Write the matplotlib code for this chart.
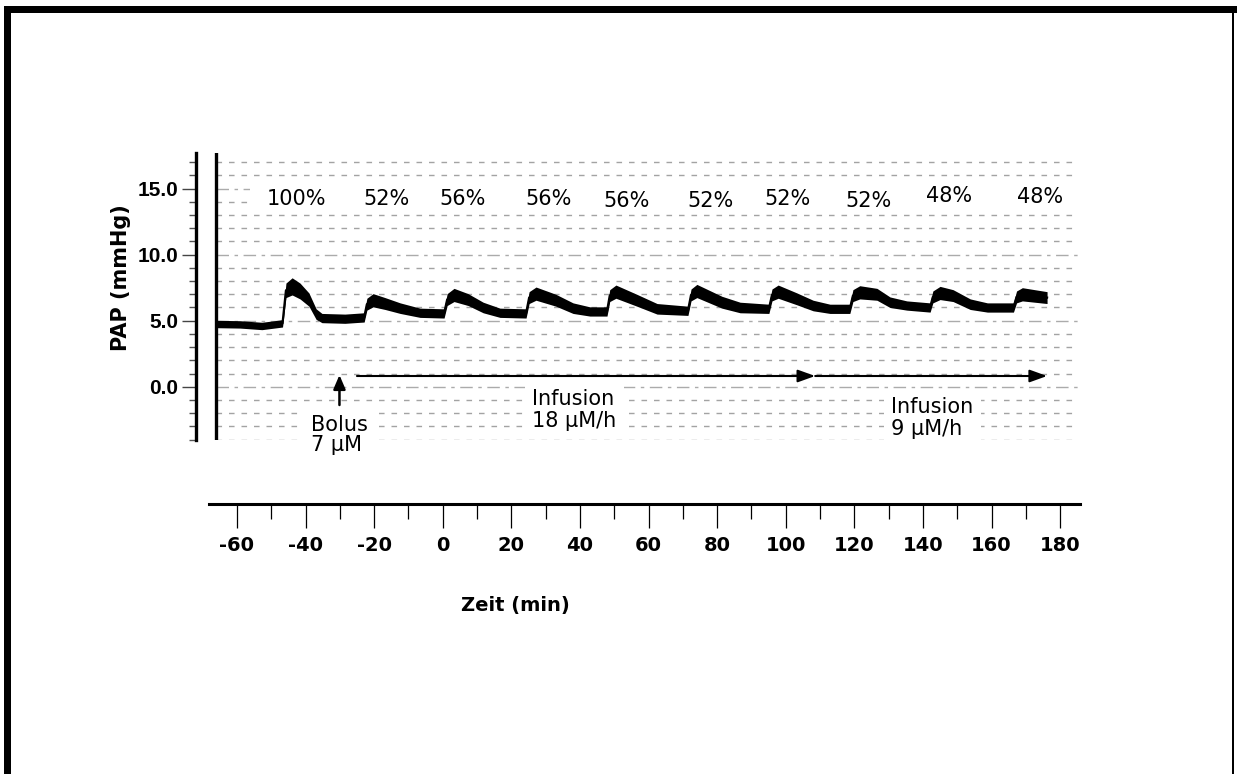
import matplotlib
matplotlib.use("Agg")
import numpy as np
import matplotlib.pyplot as plt
from matplotlib.patches import Rectangle
from matplotlib.ticker import FixedLocator, MultipleLocator

plt.rcParams['lines.scale_dashes'] = False

# ---------------- data ----------------
trace_time = [-65.9, -59.1, -52.7, -46.7, -45.7, -43.9, -41.6, -39.0, -36.9, -35.2,
              -28.5, -22.9, -22.1, -20.3, -16.8, -12.4, -6.6, 0.4, 1.3, 3.3,
              7.4, 11.8, 16.7, 24.3, 25.2, 27.2, 33.0, 38.0, 42.9, 47.9,
              48.7, 50.5, 56.6, 62.5, 71.5, 72.4, 74.1, 81.4, 86.7, 95.1,
              96.0, 97.8, 103.3, 108.0, 112.9, 118.7, 119.6, 121.6, 126.6, 130.4,
              135.3, 142.1, 142.9, 145.0, 148.8, 153.8, 158.8, 166.4, 167.3, 169.0,
              176.2]
trace_pap = [4.75, 4.72, 4.60, 4.80, 7.30, 7.60, 7.25, 6.60, 5.50, 5.20,
             5.15, 5.25, 6.25, 6.55, 6.30, 5.95, 5.60, 5.55, 6.60, 6.95,
             6.60, 6.00, 5.60, 5.55, 6.75, 7.05, 6.55, 5.95, 5.70, 5.70,
             6.90, 7.20, 6.55, 5.90, 5.75, 6.95, 7.25, 6.40, 6.00, 5.90,
             6.95, 7.20, 6.65, 6.15, 5.90, 5.90, 6.90, 7.15, 7.00, 6.40,
             6.15, 6.00, 6.80, 7.10, 6.90, 6.25, 6.00, 6.00, 6.80, 7.00,
             6.75]
trace_spread = [0.28, 0.28, 0.28, 0.28, 0.55, 0.65, 0.60, 0.50, 0.40, 0.35,
                0.35, 0.35, 0.45, 0.50, 0.45, 0.40, 0.35, 0.35, 0.45, 0.50,
                0.45, 0.40, 0.35, 0.35, 0.45, 0.50, 0.45, 0.40, 0.35, 0.35,
                0.45, 0.50, 0.45, 0.40, 0.35, 0.45, 0.50, 0.45, 0.40, 0.35,
                0.45, 0.50, 0.45, 0.40, 0.35, 0.35, 0.45, 0.50, 0.45, 0.40,
                0.35, 0.35, 0.45, 0.50, 0.45, 0.40, 0.35, 0.35, 0.45, 0.50,
                0.45]

pct_labels = ["100%", "52%", "56%", "56%", "56%", "52%", "52%", "52%", "48%", "48%"]
pct_time = [-42.5, -16.5, 5.9, 31.0, 53.7, 78.2, 100.6, 124.0, 147.6, 174.2]
pct_level = [14.2, 14.2, 14.2, 14.2, 14.1, 14.05, 14.2, 14.05, 14.45, 14.35]

bolus_time = -30.1
bolus_label = "Bolus\n7 µM"
infusion1_start, infusion1_end = -25.0, 108.6
infusion1_label = "Infusion\n18 µM/h"
infusion2_start, infusion2_end = 108.6, 176.2
infusion2_label = "Infusion\n9 µM/h"

y_ticks = [0, 5, 10, 15]
y_ticklabels = ["0.0", "5.0", "10.0", "15.0"]
x_ticks = [-60, -40, -20, 0, 20, 40, 60, 80, 100, 120, 140, 160, 180]
x_ticklabels = ["-60", "-40", "-20", "0", "20", "40", "60", "80", "100",
                "120", "140", "160", "180"]
grid_levels = list(range(-4, 18))

# ---------------- layout helpers (pixels -> figure / data) ----------------
W, H = 1237, 774
PX0, PPM = 442.7, 3.43          # pixel of t=0, pixels per minute
PY0, PPU = 386.7, 13.2          # pixel of 0 mmHg, pixels per mmHg


def fx(px):
    return px / W


def fy(py):
    return 1 - py / H


def t_of(px):
    return (px - PX0) / PPM


def v_of(py):
    return (PY0 - py) / PPU


fig = plt.figure(figsize=(W / 100, H / 100), dpi=100)
fig.patch.set_facecolor('white')

# page border
fig.add_artist(Rectangle((fx(4), 0), 7 / W, fy(6), transform=fig.transFigure,
                         color='black', lw=0))
fig.add_artist(Rectangle((fx(4), fy(13)), (W - 4) / W, 7 / H, transform=fig.transFigure,
                         color='black', lw=0))
fig.add_artist(Rectangle((fx(1232), 0), 2 / W, fy(6), transform=fig.transFigure,
                         color='black', lw=0))

# ---------------- main recording axes ----------------
L, R, T, B = 196, 1078, 153, 440
ax = fig.add_axes([fx(L), fy(B), (R - L) / W, (B - T) / H])
ax.set_xlim(t_of(L), t_of(R))
ax.set_ylim(v_of(B), v_of(T))
ax.set_facecolor('none')
for s in ['top', 'right', 'bottom']:
    ax.spines[s].set_visible(False)
ax.spines['left'].set_linewidth(2.4)
ax.spines['left'].set_color('black')
ax.set_xticks([])

ax.yaxis.set_major_locator(FixedLocator(y_ticks))
ax.set_yticklabels(y_ticklabels, fontsize=15, fontweight='bold', family='Liberation Sans')
ax.yaxis.set_minor_locator(MultipleLocator(1))
ax.tick_params(axis='y', which='major', length=10, width=1.0, color='#444444',
               direction='out', pad=3)
ax.tick_params(axis='y', which='minor', length=5, width=1.0, color='#555555',
               direction='out')
ax.set_ylabel("PAP (mmHg)", fontsize=15, fontweight='bold', family='DejaVu Sans')
ax.yaxis.set_label_coords((131 - L) / (R - L), (B - 278) / (B - T))

# chart-paper edge
paper_left = t_of(216)
ax.axvline(paper_left, color='black', lw=2.4, zorder=5)

# chart-paper grid
regular = [g for g in grid_levels if g % 5 != 0]
heavy = [g for g in grid_levels if g % 5 == 0]
ax.hlines(regular, paper_left, t_of(R), colors='#a3a3a3', lw=1.0,
          linestyles=[(0, (4.0, 5.0))], zorder=1)
ax.hlines(heavy, paper_left, t_of(R), colors='#ababab', lw=1.0,
          linestyles=[(0, (9, 4, 2.5, 4))], zorder=1)
ax.add_patch(Rectangle((t_of(250), 13.45), t_of(R + 5) - t_of(250), 2.1,
                       facecolor='white', edgecolor='none', zorder=2))

# pressure trace
tt = np.array(trace_time)
pp = np.array(trace_pap)
ss = np.array(trace_spread)
ax.fill_between(tt, pp - ss, pp + ss, color='black', lw=0, zorder=3)
ax.plot(tt, pp, color='black', lw=1.6, zorder=3)

# percentage labels
for lab, t, v in zip(pct_labels, pct_time, pct_level):
    ax.text(t, v, lab, ha='center', va='center', fontsize=15,
            family='DejaVu Sans', zorder=4)

# bolus
ax.annotate('', xy=(bolus_time, v_of(375)), xytext=(bolus_time, v_of(405)),
            arrowprops=dict(arrowstyle='-|>,head_length=0.7,head_width=0.3',
                            color='black', lw=1.8, shrinkA=0, shrinkB=0,
                            mutation_scale=12), zorder=6)
ax.text(t_of(311), v_of(435), bolus_label, ha='left', va='center', fontsize=15,
        family='DejaVu Sans', linespacing=1.05, zorder=4,
        bbox=dict(boxstyle='square,pad=0.35', facecolor='white', edgecolor='none'))

# infusions
arrow_v = v_of(376)
for a, b in [(infusion1_start, infusion1_end), (infusion2_start, infusion2_end)]:
    ax.annotate('', xy=(b, arrow_v), xytext=(a, arrow_v),
                arrowprops=dict(arrowstyle='-|>,head_length=0.75,head_width=0.27',
                                color='black', lw=1.5, shrinkA=0, shrinkB=0,
                                mutation_scale=14), zorder=6)
ax.text(t_of(532), v_of(410), infusion1_label, ha='left', va='center', fontsize=15,
        family='DejaVu Sans', linespacing=1.1, zorder=4,
        bbox=dict(boxstyle='square,pad=0.35', facecolor='white', edgecolor='none'))
ax.text(t_of(891), v_of(418), infusion2_label, ha='left', va='center', fontsize=15,
        family='DejaVu Sans', linespacing=1.1, zorder=4,
        bbox=dict(boxstyle='square,pad=0.35', facecolor='white', edgecolor='none'))

# ---------------- separate time axis ----------------
XL, XR, XY = 209, 1080, 504
axt = fig.add_axes([fx(XL), fy(XY), (XR - XL) / W, 0.0001])
axt.set_xlim(t_of(XL), t_of(XR))
axt.set_ylim(0, 1)
axt.set_yticks([])
axt.set_facecolor('none')
for s in ['top', 'right', 'left']:
    axt.spines[s].set_visible(False)
axt.spines['bottom'].set_linewidth(2.2)
axt.xaxis.set_major_locator(FixedLocator(x_ticks))
axt.set_xticklabels(x_ticklabels, fontsize=14, fontweight='bold', family='DejaVu Sans')
axt.xaxis.set_minor_locator(MultipleLocator(10))
axt.tick_params(axis='x', which='major', length=17, width=0.9, direction='out', pad=6)
axt.tick_params(axis='x', which='minor', length=11, width=0.9, direction='out')
axt.set_xlabel("Zeit (min)", fontsize=14, fontweight='bold', family='DejaVu Sans')
axt.xaxis.set_label_coords(fx(515), fy(605), transform=fig.transFigure)
axt.xaxis.label.set_va('center')

fig.savefig('out.png', dpi=100, facecolor='white')
